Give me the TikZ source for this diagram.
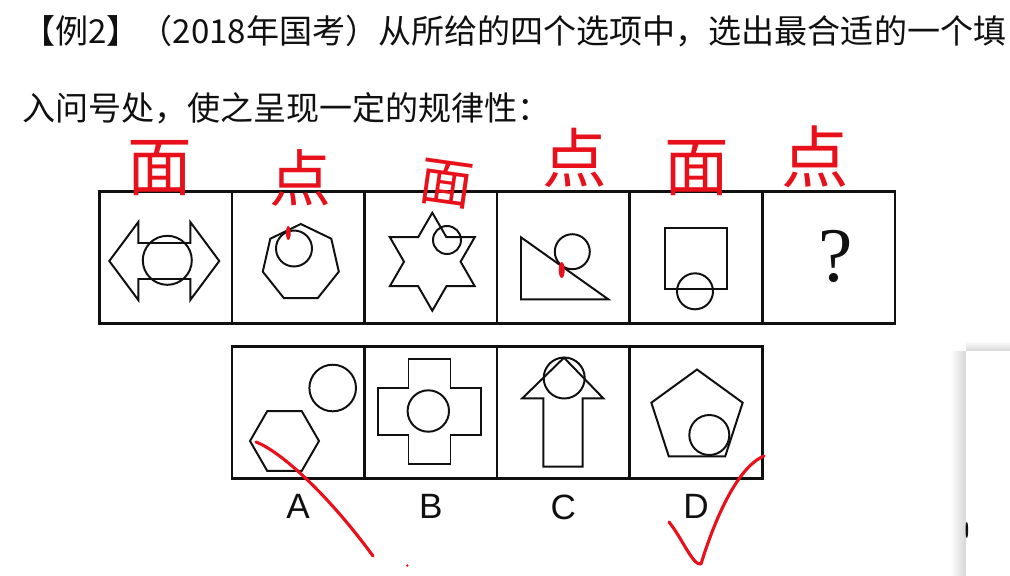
\documentclass[tikz,border=0pt]{standalone}
\usepackage{fontspec}
\setmainfont{Liberation Serif}
\newfontfamily\cjk{Noto Sans CJK SC}
\newfontfamily\optsans{Liberation Sans}
\usetikzlibrary{calc,positioning}
\definecolor{ink}{HTML}{101010}
\definecolor{penred}{HTML}{E8101A}
\definecolor{haze}{HTML}{D6D6D6}

\begin{document}
\begin{tikzpicture}[
  x=0.025cm,y=-0.025cm,
  cell/.style={draw=ink,line width=1.9pt,minimum width=3.315cm,
               minimum height=3.29cm,inner sep=0pt,outer sep=0pt},
  fig/.style={draw=ink,line width=1.4pt},
  pen/.style={draw=penred,line width=2.2pt,line cap=round,line join=round},
  blot/.style={fill=penred,draw=none},
  note/.style={text=penred,inner sep=0pt,font=\cjk\fontsize{#1}{#1}\selectfont},
  note/.default=46,
  ask/.style={text=ink,inner sep=0pt,anchor=west,
              font=\cjk\fontsize{23.5}{28}\selectfont},
  optlbl/.style={text=ink,inner sep=0pt,font=\optsans\fontsize{25}{25}\selectfont},
]
\useasboundingbox (0,0) rectangle (1010,575);
\fill[white] (0,0) rectangle (1010,575);

% Question text, two lines.
\node[ask] (ask1) at (22,31) {【例2】（2018年国考）从所给的四个选项中，选出最合适的一个填};
\node[ask] (ask2) at (22,108) {入问号处，使之呈现一定的规律性：};

% Top row: six cells.
\foreach \i in {1,...,6}
  \node[cell] (q\i) at ({99.3+132.6*(\i-0.5)},257.5) {};

% Bottom row: four options under cells 2-5.
\foreach \o/\j in {A/2,B/3,C/4,D/5} {
  \node[cell] (opt\o) at ({99.3+132.6*(\j-0.5)},412.5) {};
  \node[optlbl,below=4mm of opt\o] (lbl\o) {\o};
}

% Cell 1: double arrow and circle.
\draw[fig,shift={(164.3,261)}] (-55,0) -- (-26,-39) -- (-26,-18) -- (26,-18)
  -- (26,-39) -- (55,0) -- (26,39) -- (26,18) -- (-26,18) -- (-26,39) -- cycle;
\draw[fig] (167.3,260.3) circle[radius=24.5];

% Cell 2: heptagon, circle touching one side.
\draw[fig,shift={(300.8,263)}] (-90:39)
  \foreach \k in {1,...,6}{ -- ({-90+\k*360/7}:39)} -- cycle;
\draw[fig] (294,248.5) circle[radius=18];
\fill[blot] (288.3,233) ellipse[x radius=2.4,y radius=7];

% Cell 3: six-pointed star.
\draw[fig,shift={(432.3,261.7)}] (-90:49)
  \foreach \a in {0,60,...,300}{ -- ({-60+\a}:28.3) -- ({-30+\a}:49)} -- cycle;
\draw[fig] (447,240) circle[radius=14];

% Cell 4: right triangle.
\draw[fig] (521,237.3) -- (521,299.3) -- (608.3,299.3) -- cycle;
\draw[fig] (572.3,251.7) circle[radius=17.5];
\fill[blot] (561.7,270) ellipse[x radius=3,y radius=8];

% Cell 5: square.
\draw[fig] (665,228.3) rectangle (726.7,289.3);
\draw[fig] (695,291.3) circle[radius=18];

% Cell 6: the unknown.
\node[text=ink,inner sep=0pt,font=\fontsize{55}{55}\selectfont] (qmark) at (836,256) {?};

% Option A: hexagon and a separate circle.
\draw[fig,shift={(284.5,441)}] (0:34.5)
  \foreach \a in {60,120,...,300}{ -- (\a:34.5)} -- cycle;
\draw[fig] (332.7,388) circle[radius=23.3];

% Option B: cross.
\draw[fig,shift={(429.5,411.5)}] (-21,-52.7) -- (21,-52.7) -- (21,-23.3)
  -- (51.2,-23.3) -- (51.2,23.3) -- (21,23.3) -- (21,52.7) -- (-21,52.7)
  -- (-21,23.3) -- (-51.2,23.3) -- (-51.2,-23.3) -- (-21,-23.3) -- cycle;
\draw[fig] (428.3,411) circle[radius=20.7];

% Option C: up arrow.
\draw[fig] (564,357.7) -- (603.3,398.3) -- (582.7,398.3) -- (582.7,466.7)
  -- (543.3,466.7) -- (543.3,398.3) -- (522.3,398.3) -- cycle;
\draw[fig] (564.2,378) circle[radius=20.5];

% Option D: pentagon.
\draw[fig,shift={(697,417.5)}] (-90:48)
  \foreach \a in {-18,54,126,198}{ -- (\a:48)} -- cycle;
\draw[fig] (709.3,435) circle[radius=20];

% Handwritten notes above the row.
\node[note=46] (n1) at (160,168) {面};
\node[note=44] (n2) at (300,178) {点};
\node[note=38,rotate=-8] (n3) at (447,184) {面};
\node[note=46] (n4) at (575,158) {点};
\node[note=46] (n5) at (697,168) {面};
\node[note=48] (n6) at (815,157) {点};

% Strike through A, tick at D.
\draw[pen] (256,442) .. controls (282,452) and (330,497) .. (373,556);
\fill[penred] (407.3,565.5) circle[radius=1.3];
\draw[pen] (669,522) .. controls (682,538) and (693,566) .. (701,564)
  .. controls (712,528) and (735,468) .. (764,456);

% Edge of a panel on the right.
\shade[left color=white,right color=haze] (950,351) rectangle (966,575);
\shade[top color=white,bottom color=haze] (966,341) rectangle (1010,351);
\fill[white] (966,351) rectangle (1010,575);
\fill[ink] (966.8,530) ellipse[x radius=1.3,y radius=8];

\end{tikzpicture}
\end{document}
